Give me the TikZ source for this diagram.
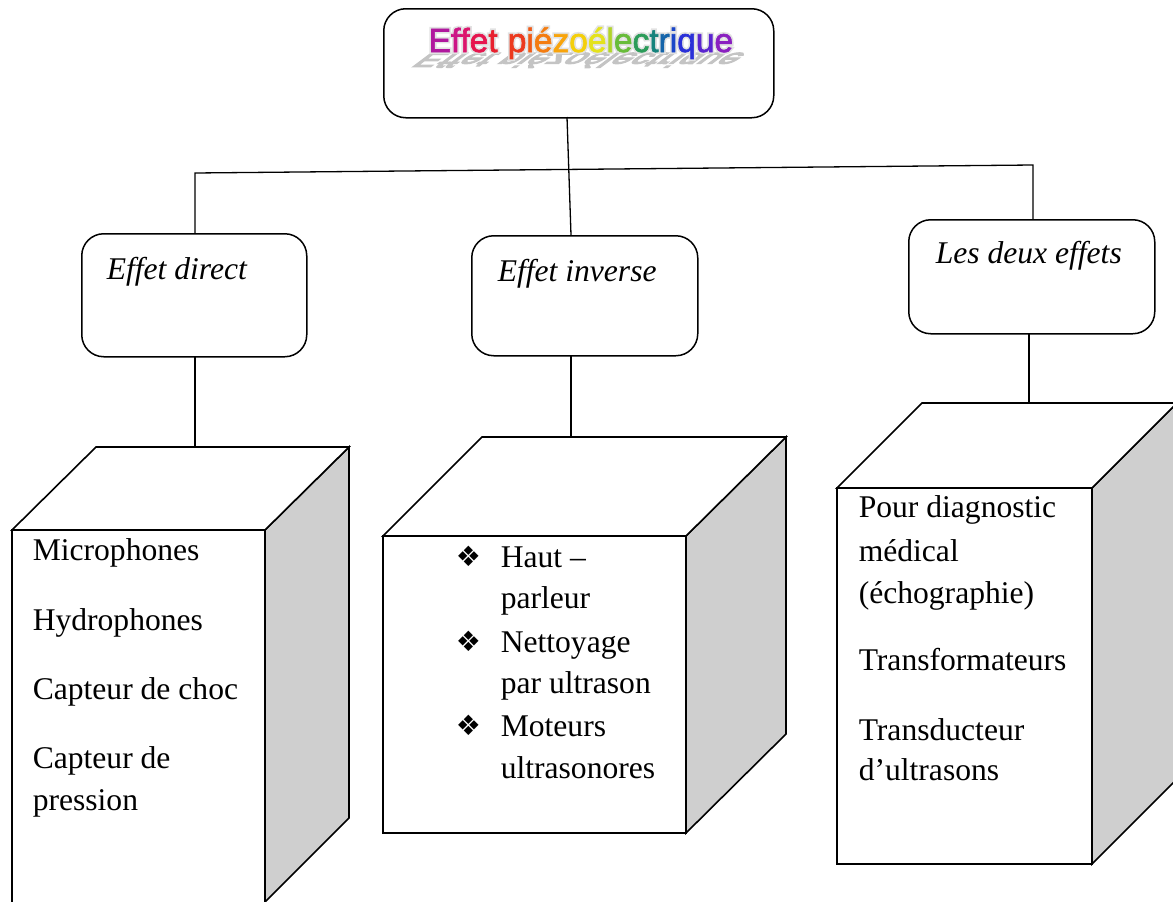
\documentclass[tikz,border=0pt]{standalone}
\usepackage{fontspec}
\setmainfont{Liberation Serif}
\newfontfamily\titlefont[LetterSpace=2.5,FakeBold=2]{Liberation Sans}
\newfontfamily\titlehalofont[LetterSpace=2.5,FakeBold=12]{Liberation Sans}
\newfontfamily\titleshadowfont[LetterSpace=2.5,FakeBold=6]{Liberation Sans}
\newfontfamily\symfont{DejaVu Sans}

% rainbow colours of the heading, one per letter
\definecolor{pzA}{HTML}{B0189E}
\definecolor{pzB}{HTML}{CC1686}
\definecolor{pzC}{HTML}{DC156C}
\definecolor{pzD}{HTML}{E6154E}
\definecolor{pzE}{HTML}{E8202E}
\definecolor{pzF}{HTML}{EC3A1E}
\definecolor{pzG}{HTML}{F05A16}
\definecolor{pzH}{HTML}{F47C10}
\definecolor{pzI}{HTML}{F8A40C}
\definecolor{pzJ}{HTML}{F4CF0A}
\definecolor{pzK}{HTML}{E4E21C}
\definecolor{pzL}{HTML}{B2D42A}
\definecolor{pzM}{HTML}{68BC3A}
\definecolor{pzN}{HTML}{2C9C5A}
\definecolor{pzO}{HTML}{16837C}
\definecolor{pzP}{HTML}{1464AA}
\definecolor{pzQ}{HTML}{1A46C8}
\definecolor{pzR}{HTML}{2A30D8}
\definecolor{pzS}{HTML}{5A24D0}
\definecolor{pzT}{HTML}{8A20C0}
\definecolor{pzHalo}{HTML}{E2E2E2}
\definecolor{pzShadow}{HTML}{C4C4C4}
\definecolor{sideGray}{HTML}{CFCFCF}

% the heading word, each letter passed through \pzLetter{colour}{letter}
\newcommand\pzHeading{%
  \pzLetter{pzA}{E}\pzLetter{pzB}{f}\pzLetter{pzC}{f}\pzLetter{pzD}{e}\pzLetter{pzE}{t}%
  \pzLetter{pzE}{\ }%
  \pzLetter{pzF}{p}\pzLetter{pzG}{i}\pzLetter{pzH}{é}\pzLetter{pzI}{z}\pzLetter{pzJ}{o}%
  \pzLetter{pzK}{é}\pzLetter{pzL}{l}\pzLetter{pzM}{e}\pzLetter{pzN}{c}\pzLetter{pzO}{t}%
  \pzLetter{pzP}{r}\pzLetter{pzQ}{i}\pzLetter{pzR}{q}\pzLetter{pzS}{u}\pzLetter{pzT}{e}}

\begin{document}
\begin{tikzpicture}[x=1pt,y=1pt,line width=1.5pt,
  rbox/.style={draw,rounded corners=22pt,fill=white,inner sep=0pt,anchor=north west},
  boxlabel/.style={font=\fontsize{31.6}{38}\selectfont\itshape,anchor=base west,inner sep=0pt},
  item/.style={font=\fontsize{31.6}{42}\selectfont,anchor=base west,inner sep=0pt},
  bulletmark/.style={font=\symfont\fontsize{28}{28}\selectfont,anchor=base west,inner sep=0pt},
  heading/.style={font=\titlefont\fontsize{33.5}{33.5}\selectfont,anchor=base west,inner sep=0pt},
  link/.style={line width=1.3pt},
  face/.style={draw,fill=white,line width=1.6pt,line join=miter},
  sideface/.style={draw,fill=sideGray,line width=1.6pt,line join=miter}]
\useasboundingbox (0,0) rectangle (1173,-902);
\clip (0,0) rectangle (1173,-902);

% ---------- heading box ----------
\node[rbox,minimum width=390pt,minimum height=109pt] (title) at (383,-8) {};
\begin{scope}[shift={(428,-53)},cm={1,0,-0.8,-0.6,(0,0)},transform shape]
  \node[heading,font=\titleshadowfont\fontsize{33.5}{33.5}\selectfont,text=pzShadow]
    (titleshadow) at (0,0) {\def\pzLetter#1#2{#2}\pzHeading};
\end{scope}
\node[heading,font=\titlehalofont\fontsize{33.5}{33.5}\selectfont] (titlehalo) at (428,-52)
  {\def\pzLetter#1#2{\textcolor{pzHalo}{#2}}\pzHeading};
\node[heading] (titletext) at (428,-52)
  {\def\pzLetter#1#2{\textcolor{#1}{#2}}\pzHeading};

% ---------- second level boxes ----------
\node[rbox,minimum width=225pt,minimum height=123pt] (direct) at (81,-233) {};
\node[rbox,minimum width=226pt,minimum height=120pt] (inverse) at (471,-235) {};
\node[rbox,minimum width=246pt,minimum height=114pt] (both) at (908,-219) {};
\node[boxlabel] (directlabel) at (106,-279) {Effet direct};
\node[boxlabel] (inverselabel) at (497,-281) {Effet inverse};
\node[boxlabel] (bothlabel) at (935,-263) {Les deux effets};

% ---------- tree connectors ----------
\coordinate (titlefoot) at (567,-117);
\coordinate (inversehead) at (571,-235);
\coordinate (directhead) at (195,-233);
\coordinate (bothhead) at (1033,-219);
\coordinate (barleft) at (195,-173);
\coordinate (barright) at (1033,-165);
\draw[link] (titlefoot) -- (inversehead);
\draw[link] (directhead) -- (barleft) -- (barright) -- (bothhead);

\coordinate (directfoot) at (195,-356);
\coordinate (inversefoot) at (571,-355);
\coordinate (bothfoot) at (1029,-333);
\coordinate (cubeAtop) at (195,-447);
\coordinate (cubeBtop) at (571,-437);
\coordinate (cubeCtop) at (1029,-403);
\draw[link] (directfoot) -- (cubeAtop);
\draw[link] (inversefoot) -- (cubeBtop);
\draw[link] (bothfoot) -- (cubeCtop);

% ---------- cube under "Effet direct" ----------
\draw[sideface] (265,-530) -- (349,-447) -- (349,-818) -- (265,-902) -- cycle;
\draw[face] (12,-530) -- (96,-447) -- (349,-447) -- (265,-530) -- cycle;
\draw[face] (12,-530) rectangle (265,-904);
\node[item] (a1) at (32,-560) {Microphones};
\node[item] (a2) at (32,-630) {Hydrophones};
\node[item] (a3) at (32,-699) {Capteur de choc};
\node[item] (a4) at (32,-768) {Capteur de};
\node[item] (a5) at (32,-810) {pression};

% ---------- cube under "Effet inverse" ----------
\draw[sideface] (686,-536) -- (786,-437) -- (786,-734) -- (686,-833) -- cycle;
\draw[face] (383,-536) -- (482,-437) -- (786,-437) -- (686,-536) -- cycle;
\draw[face] (383,-536) rectangle (686,-833);
\node[bulletmark] (b1m) at (455,-566) {❖};
\node[bulletmark] (b2m) at (455,-651) {❖};
\node[bulletmark] (b3m) at (455,-735) {❖};
\node[item] (b1) at (500,-567) {Haut –};
\node[item] (b1b) at (500,-608) {parleur};
\node[item] (b2) at (500,-652) {Nettoyage};
\node[item] (b2b) at (500,-693) {par ultrason};
\node[item] (b3) at (500,-736) {Moteurs};
\node[item] (b3b) at (500,-778) {ultrasonores};

% ---------- cube under "Les deux effets" ----------
\draw[sideface] (1092,-488) -- (1177,-403) -- (1177,-779) -- (1092,-864) -- cycle;
\draw[face] (837,-488) -- (922,-403) -- (1177,-403) -- (1092,-488) -- cycle;
\draw[face] (837,-488) rectangle (1092,-864);
\node[item] (c1) at (858,-517) {Pour diagnostic};
\node[item] (c1b) at (858,-561) {médical};
\node[item] (c1c) at (858,-603) {(échographie)};
\node[item] (c2) at (858,-670) {Transformateurs};
\node[item] (c3) at (858,-740) {Transducteur};
\node[item] (c3b) at (858,-780) {d’ultrasons};
\end{tikzpicture}
\end{document}
